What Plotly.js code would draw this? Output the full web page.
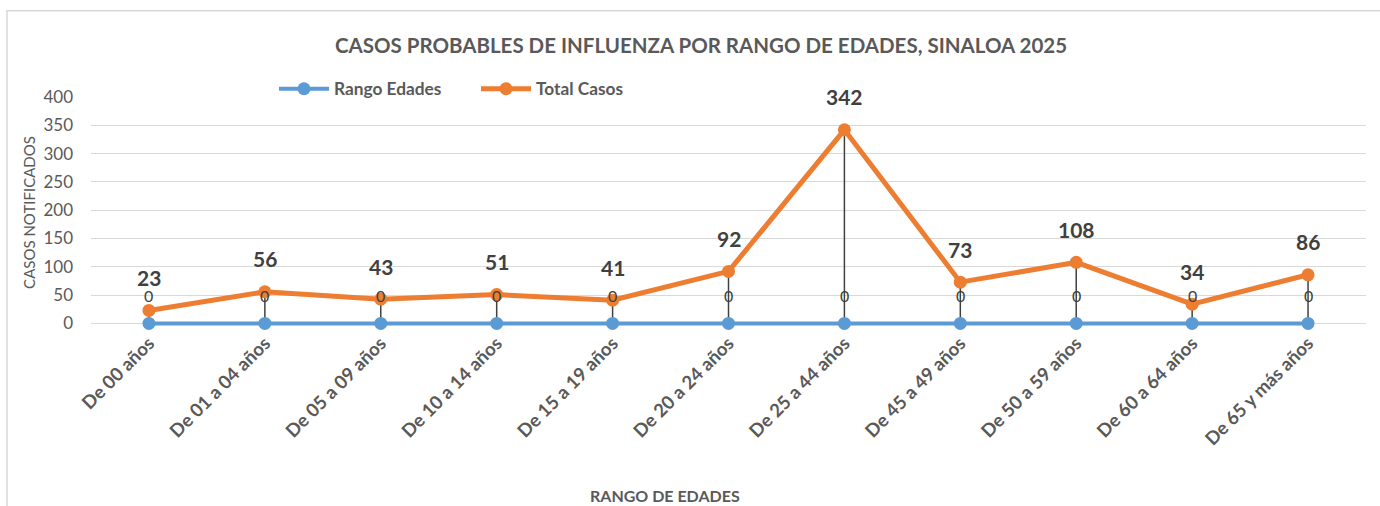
<!DOCTYPE html>
<html>
<head>
<meta charset="utf-8">
<script src="https://cdn.plot.ly/plotly-3.0.1.min.js"></script>
<style>
html,body{margin:0;padding:0;background:#fff;}
#chart{width:1380px;height:506px;}
</style>
</head>
<body>
<div id="chart"></div>
<script>
const categories = ["De 00 años","De 01 a 04 años","De 05 a 09 años","De 10 a 14 años","De 15 a 19 años","De 20 a 24 años","De 25 a 44 años","De 45 a 49 años","De 50 a 59 años","De 60 a 64 años","De 65 y más años"];
const rangoEdades = [0,0,0,0,0,0,0,0,0,0,0];
const totalCasos = [23,56,43,51,41,92,342,73,108,34,86];
const yTicks = [0,50,100,150,200,250,300,350,400];

const FONT = "Lato, 'Open Sans', sans-serif";
const GRAY = "#595959";

// layout geometry (pixels)
const W = 1380, H = 506;
const L = 91, R = 14, T = 97;
const yMin = -8, yMax = 400;
const pxPerUnit = (323 - 97) / 400;
const plotBottom = 323 + (-yMin) * pxPerUnit;
const B = H - plotBottom;
const plotW = W - L - R, plotH = plotBottom - T;
const px2x = p => (p - L) / plotW;
const px2y = p => (plotBottom - p) / plotH;

// high-low drop lines built from the data
const dropX = [], dropY = [];
categories.forEach((c,i)=>{ dropX.push(c,c,null); dropY.push(rangoEdades[i], totalCasos[i], null); });

const traces = [
  {x: dropX, y: dropY, mode:'lines', line:{color:'#404040', width:1.5}, showlegend:false, hoverinfo:'skip'},
  {x: categories, y: rangoEdades, name:'Rango Edades', mode:'lines+markers',
   line:{color:'#5B9BD5', width:4}, marker:{color:'#5B9BD5', size:13}, cliponaxis:false},
  {x: categories, y: totalCasos, name:'Total Casos', mode:'lines+markers',
   line:{color:'#ED7D31', width:5}, marker:{color:'#ED7D31', size:13}, cliponaxis:false}
];

const annotations = [];
categories.forEach((c,i)=>{
  annotations.push({x:c, y:totalCasos[i], xref:'x', yref:'y', text:String(totalCasos[i]), showarrow:false,
    yshift:33, font:{family:FONT, size:21, color:'#404040', weight:'bold'}});
  annotations.push({x:c, y:rangoEdades[i], xref:'x', yref:'y', text:String(rangoEdades[i]), showarrow:false,
    yshift:28, font:{family:FONT, size:16, color:'#404040'}});
});
annotations.push({xref:'paper', yref:'paper', x:px2x(665), y:px2y(495), xanchor:'center', yanchor:'middle',
  text:'RANGO DE EDADES', showarrow:false, font:{family:FONT, size:16, color:GRAY, weight:'bold'}});

const layout = {
  width:W, height:H,
  margin:{l:L, r:R, t:T, b:B},
  paper_bgcolor:'#fff', plot_bgcolor:'#fff',
  title:{text:'CASOS PROBABLES DE INFLUENZA POR RANGO DE EDADES, SINALOA 2025',
    font:{family:FONT, size:20.5, color:GRAY, weight:'bold'}, x:701/W, xanchor:'center', y:1-46/H, yanchor:'middle'},
  showlegend:true,
  legend:{orientation:'h', x:px2x(274), xanchor:'left', y:px2y(89), yanchor:'middle',
    font:{family:FONT, size:17.3, color:GRAY, weight:'bold'}, itemwidth:50, entrywidth:137, entrywidthmode:'pixels',
    tracegroupgap:0, bgcolor:'rgba(0,0,0,0)'},
  xaxis:{type:'category', range:[-0.5,10.5], tickangle:-45, showgrid:false, showline:false, zeroline:false,
    ticks:'', ticklabelstandoff:0, tickfont:{family:FONT, size:18.5, color:GRAY, weight:'bold'}, fixedrange:true},
  yaxis:{range:[yMin,yMax], tickvals:yTicks, showgrid:true, gridcolor:'#D9D9D9', gridwidth:1, zeroline:false,
    showline:false, ticks:'', ticklabelstandoff:17, tickfont:{family:FONT, size:17, color:GRAY},
    title:{text:'CASOS NOTIFICADOS', font:{family:FONT, size:15, color:GRAY}, standoff:4}},
  annotations: annotations,
  shapes:[{type:'rect', xref:'paper', yref:'paper', x0:px2x(7), x1:px2x(1420), y0:px2y(560), y1:px2y(11),
    line:{color:'#D9D9D9', width:1.5}, layer:'below'}]
};

Plotly.newPlot('chart', traces, layout, {displayModeBar:false, staticPlot:true});
</script>
</body>
</html>
